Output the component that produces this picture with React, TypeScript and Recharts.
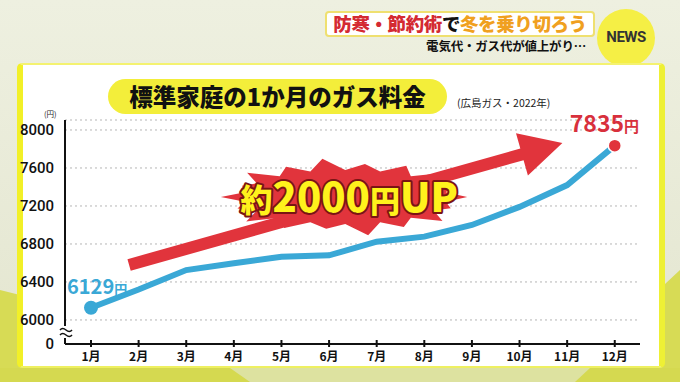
import React from 'react';
import { LineChart, Line, XAxis, YAxis, CartesianGrid, ReferenceLine, ReferenceDot, LabelList } from 'recharts';

const months = [1, 2, 3, 4, 5, 6, 7, 8, 9, 10, 11, 12];
const monthLabels = ['1月', '2月', '3月', '4月', '5月', '6月', '7月', '8月', '9月', '10月', '11月', '12月'];
const gasFee = [6129, 6320, 6525, 6597, 6666, 6680, 6824, 6877, 7000, 7190, 7420, 7835];
const yTicks = [5747, 6000, 6400, 6800, 7200, 7600, 8000];
const yTickLabels = ['0', '6000', '6400', '6800', '7200', '7600', '8000'];
const arrowFrom = { x: 1.8, y: 6579 };
const arrowTo = { x: 10.9, y: 7863 };
const burstAt = { x: 6.34, y: 7295 };

const data = months.map((m, i) => ({ month: m, label: monthLabels[i], fee: gasFee[i] }));

const JP = '"Noto Sans CJK JP", "Noto Sans", sans-serif';
const BLUE = '#3aa8d6';
const RED = '#e1343c';

const ArrowShape = (p: any) => {
  const { x1, y1, x2, y2 } = p;
  const dx = x2 - x1, dy = y2 - y1;
  const len = Math.sqrt(dx * dx + dy * dy);
  const ux = dx / len, uy = dy / len;
  const nx = -uy, ny = ux;
  const t = 6, H = 22, L = 42;
  const bx = x2 - ux * L, by = y2 - uy * L;
  const pts = [
    [x1 + nx * t, y1 + ny * t],
    [bx + nx * t, by + ny * t],
    [bx + nx * H, by + ny * H],
    [x2, y2],
    [bx - nx * H, by - ny * H],
    [bx - nx * t, by - ny * t],
    [x1 - nx * t, y1 - ny * t],
  ];
  return <polygon points={pts.map((q) => q.join(',')).join(' ')} fill={RED} />;
};

const spikeJitter = [1, 0.92, 1.04, 0.96, 1.08, 0.9, 1, 1.06, 0.94, 1.02, 0.9, 1.05, 0.97, 1.08, 0.93, 1, 1.04, 0.95];
const BurstShape = (p: any) => {
  const { cx, cy } = p;
  const n = spikeJitter.length;
  const pts: string[] = [];
  for (let i = 0; i < n * 2; i++) {
    const a = (Math.PI * i) / n;
    const outer = i % 2 === 0;
    const j = spikeJitter[Math.floor(i / 2)];
    const rx = outer ? 122 * j : 102;
    const ry = outer ? 36 * j : 27;
    pts.push(`${cx + Math.cos(a) * rx},${cy + Math.sin(a) * ry}`);
  }
  return (
    <g>
      <polygon points={pts.join(' ')} fill={RED} />
      <text
        x={cx + 4}
        y={cy + 15}
        textAnchor="middle"
        fontFamily={JP}
        fontWeight={900}
        fill="#fff21c"
        stroke="#7a1414"
        strokeWidth={4}
        paintOrder="stroke"
        strokeLinejoin="round"
      >
        <tspan fontSize={32}>約</tspan>
        <tspan fontSize={40}>2000</tspan>
        <tspan fontSize={30}>円</tspan>
        <tspan fontSize={40}>UP</tspan>
      </text>
    </g>
  );
};

const XTick = (p: any) => {
  const { x, y, payload } = p;
  return (
    <g>
      <line x1={x} x2={x} y1={y - 4} y2={y + 3} stroke="#111" strokeWidth={2} />
      <text x={x} y={y + 17} textAnchor="middle" fontSize={12} fontWeight={700} fontFamily={JP} fill="#111">
        {monthLabels[payload.value - 1]}
      </text>
    </g>
  );
};

const YTick = (p: any) => {
  const { x, y, payload } = p;
  const idx = yTicks.indexOf(payload.value);
  return (
    <text x={x} y={y + 5} textAnchor="end" fontSize={15} fontWeight={500} fontFamily="Roboto, sans-serif" fill="#111">
      {yTickLabels[idx]}
    </text>
  );
};

const Dot = (p: any) => {
  if (p.index === 0) return <circle key="d0" cx={p.cx} cy={p.cy} r={7} fill={BLUE} />;
  if (p.index === gasFee.length - 1)
    return <circle key="dl" cx={p.cx} cy={p.cy} r={6.5} fill={RED} stroke="#fff" strokeWidth={1.5} />;
  return <g key={`d${p.index}`} />;
};

const EndLabel = (p: any) => {
  const { x, y, index, value } = p;
  if (index === 0)
    return (
      <text x={x - 24} y={y - 14} fontFamily={JP} fontWeight={700} fill={BLUE}>
        <tspan fontSize={20}>{value}</tspan>
        <tspan fontSize={13}>円</tspan>
      </text>
    );
  if (index === gasFee.length - 1)
    return (
      <text x={x - 45} y={y - 14} fontFamily={JP} fontWeight={700} fill="#d8303c">
        <tspan fontSize={23}>{value}</tspan>
        <tspan fontSize={15}>円</tspan>
      </text>
    );
  return null;
};

export default function App() {
  return (
    <div style={{ position: 'absolute', left: 0, top: 0, width: 680, height: 382, overflow: 'hidden', background: '#e6e8d5', fontFamily: JP }}>
      <svg width={680} height={382} style={{ position: 'absolute', left: 0, top: 0 }}>
        <defs>
          <linearGradient id="bgtop" x1="0" y1="0" x2="0" y2="1">
            <stop offset="0" stopColor="#eef0e0" />
            <stop offset="1" stopColor="#e3e5cf" />
          </linearGradient>
        </defs>
        <rect x={0} y={0} width={680} height={382} fill="url(#bgtop)" />
        <polygon points="0,290 40,300 240,382 0,382" fill="#d7db55" />
        <polygon points="560,382 680,270 680,382" fill="#d7db55" />
        <rect x={0} y={368} width={680} height={14} fill="#dde2a0" />
        <polygon points="0,368 230,368 250,382 0,382" fill="#d5d950" />
        <polygon points="590,368 680,368 680,382 575,382" fill="#d5d950" />
        <circle cx={626} cy={38} r={29} fill="#f5ef45" />
      </svg>
      <div style={{ position: 'absolute', left: 597, top: 28, width: 58, textAlign: 'center', fontFamily: 'Roboto, sans-serif', fontWeight: 700, fontSize: 15, color: '#333', letterSpacing: -0.5 }}>
        NEWS
      </div>
      <div style={{ position: 'absolute', left: 325, top: 11, width: 270, height: 26, background: '#fff', border: '2px solid #efe070', borderRadius: 4, boxSizing: 'border-box', whiteSpace: 'nowrap', fontSize: 18.5, fontWeight: 900, lineHeight: '21px', textAlign: 'center', letterSpacing: -0.4, overflow: 'hidden' }}>
        <span style={{ color: '#d42a32' }}>防寒・節約術</span>
        <span style={{ color: '#111' }}>で</span>
        <span style={{ color: '#f0a020' }}>冬を乗り切ろう</span>
      </div>
      <div style={{ position: 'absolute', left: 405, top: 40, width: 181, height: 12, fontSize: 12.5, lineHeight: '12px', fontWeight: 700, color: '#111', whiteSpace: 'nowrap', textAlign: 'right', letterSpacing: -0.2 }}>
        電気代・ガス代が値上がり…
      </div>
      <div style={{ position: 'absolute', left: 17, top: 63, width: 648, height: 305, background: '#fff', borderLeft: '6px solid #f2f028', borderRight: '6px solid #eef035', borderTop: '2px solid #f4f270', borderBottom: '2px solid #eef060', borderRadius: 5, boxSizing: 'border-box' }} />
      <div style={{ position: 'absolute', left: 108, top: 79, width: 339, height: 35, background: '#f3ee3a', borderRadius: 18, textAlign: 'center', fontSize: 23.5, fontWeight: 900, lineHeight: '35px', color: '#111', whiteSpace: 'nowrap' }}>
        標準家庭の1か月のガス料金
      </div>
      <div style={{ position: 'absolute', left: 457, top: 95, fontSize: 10.5, color: '#222', whiteSpace: 'nowrap' }}>
        (広島ガス・2022年)
      </div>
      <div style={{ position: 'absolute', left: 44, top: 109, fontSize: 7.5, lineHeight: '9px', color: '#222', whiteSpace: 'nowrap' }}>(円)</div>
      <div style={{ position: 'absolute', left: 0, top: 0 }}>
        <LineChart width={680} height={382} data={data} margin={{ top: 120, right: 40, bottom: 0, left: 0 }}>
          <CartesianGrid vertical={false} stroke="#b5b5b5" strokeDasharray="2 3" />
          <XAxis
            dataKey="month"
            type="number"
            domain={[0.454, 12.53]}
            ticks={months}
            interval={0}
            axisLine={{ stroke: '#111', strokeWidth: 2 }}
            tickLine={false}
            tickSize={0}
            tickMargin={0}
            tick={<XTick />}
            height={38}
          />
          <YAxis
            type="number"
            domain={[5747, 8105]}
            ticks={yTicks}
            interval={0}
            width={65}
            axisLine={{ stroke: '#111', strokeWidth: 2 }}
            tickLine={false}
            tickMargin={5}
            tick={<YTick />}
          />
          <ReferenceLine segment={[arrowFrom, arrowTo]} shape={ArrowShape} ifOverflow="visible" />
          <ReferenceDot x={burstAt.x} y={burstAt.y} r={0} shape={BurstShape} ifOverflow="visible" />
          <Line
            type="linear"
            dataKey="fee"
            stroke={BLUE}
            strokeWidth={6}
            dot={Dot}
            activeDot={false}
            isAnimationActive={false}
          >
            <LabelList dataKey="fee" content={EndLabel} />
          </Line>
        </LineChart>
      </div>
      <svg width={14} height={12} style={{ position: 'absolute', left: 59, top: 326 }}>
        <rect x={0} y={0} width={14} height={12} fill="#fff" />
        <path d="M1,4 Q3.5,1 7,4 T13,4" fill="none" stroke="#111" strokeWidth={1.5} />
        <path d="M1,9 Q3.5,6 7,9 T13,9" fill="none" stroke="#111" strokeWidth={1.5} />
      </svg>
    </div>
  );
}
